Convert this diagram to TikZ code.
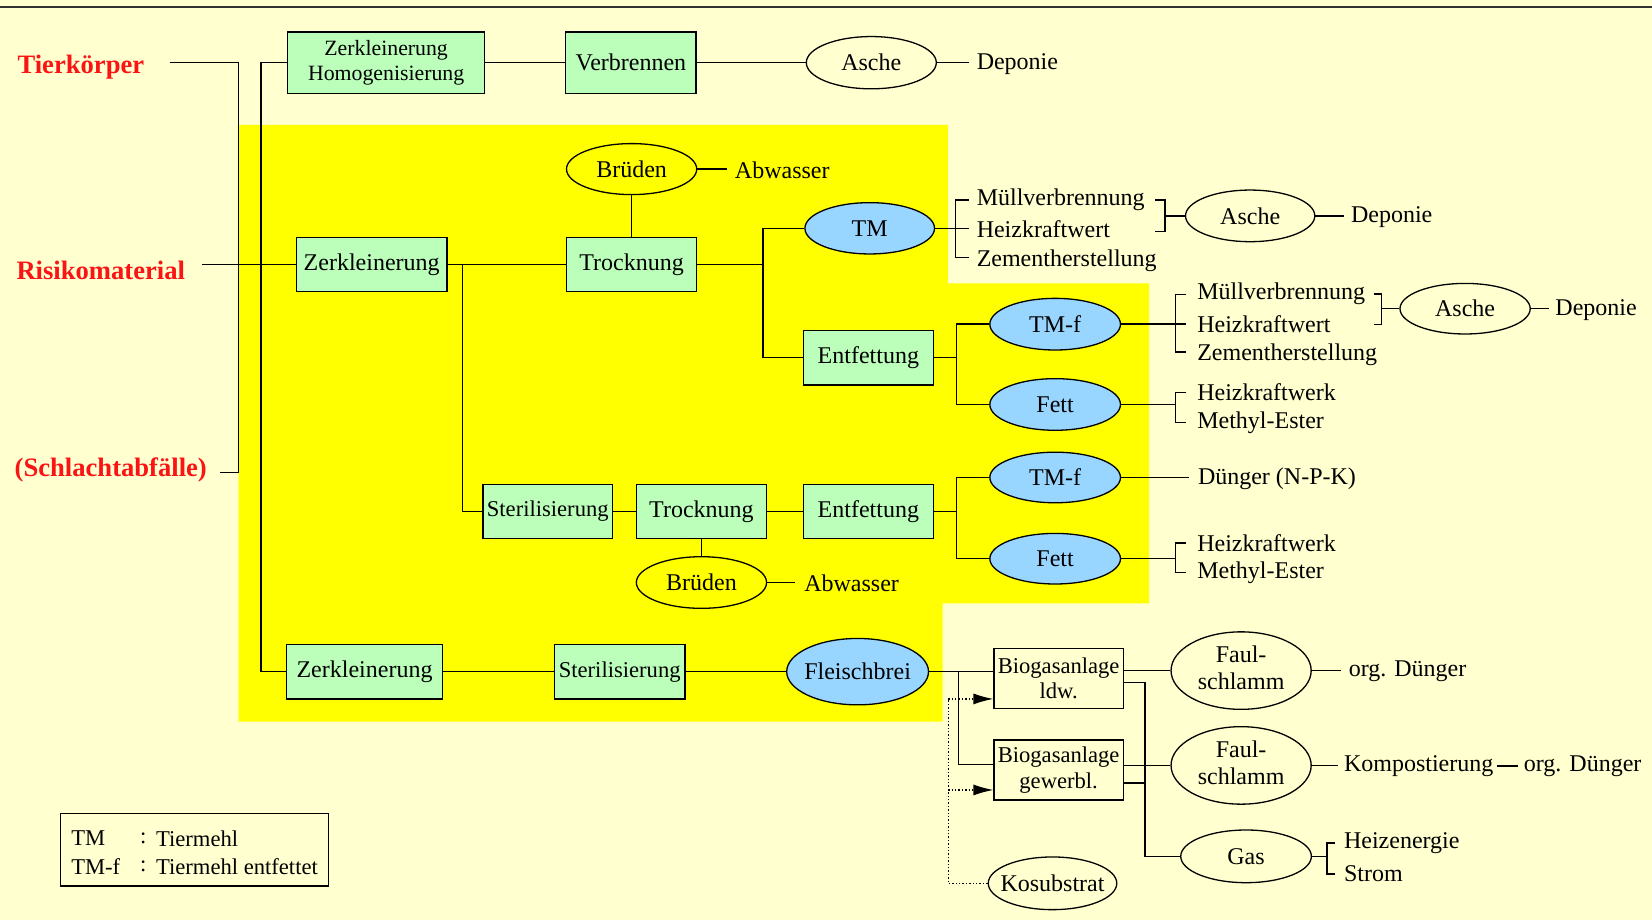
\documentclass[tikz,border=0pt]{standalone}
\usepackage{fontspec}
\setmainfont{Liberation Serif}
\usetikzlibrary{shapes.geometric,arrows.meta,calc}
\definecolor{bgc}{RGB}{255,255,208}
\definecolor{yel}{RGB}{255,255,0}
\definecolor{boxg}{RGB}{187,255,187}
\definecolor{ellb}{RGB}{153,214,255}
\definecolor{redc}{RGB}{250,20,20}
\tikzset{
 ln/.style={line width=0.7pt},
 sz/.style 2 args={minimum width=#1*0.5268pt, minimum height=#2*0.5268pt},
 f12/.style={font=\fontsize{12}{13.7}\selectfont},
 f11/.style={font=\fontsize{11.3}{12.8}\selectfont},
 box/.style={draw, line width=0.65pt, fill=boxg, inner sep=0pt, align=center, f12},
 wbox/.style={draw, line width=0.65pt, inner sep=0pt, align=center, f11},
 ell/.style={ellipse, draw, line width=0.65pt, inner sep=0pt, f12},
 bell/.style={ell, fill=ellb},
 txt/.style={anchor=west, inner sep=0pt, f12},
 redl/.style={anchor=west, inner sep=0pt, text=redc, font=\fontsize{13.3}{15}\selectfont\bfseries},
 dotl/.style={line width=0.7pt, densely dotted},
 arr/.style={-{Latex[length=10pt,width=5.5pt]}},
}
\begin{document}
\begin{tikzpicture}[x=0.5268pt,y=-0.5268pt]
\fill[bgc] (0,0) rectangle (1568,873);
\useasboundingbox (0,0) rectangle (1568,873);
\draw[line width=1pt, black!80] (0,6.6) -- (1568,6.6);
\fill[yel] (226.5,118.6) -- (899.7,118.6) -- (899.7,268.9) -- (1090.8,268.9) -- (1090.8,572.6) -- (894.8,572.6) -- (894.8,685) -- (226.5,685) -- cycle;

% left labels
\node[redl] (tk) at (16.3,63.3) {Tierkörper};
\node[redl] (rm) at (15.3,256.3) {Risikomaterial};
\node[redl] (sa) at (13.6,446) {(Schlachtabfälle)};

% top row
\node[box, sz={187}{58}, font=\fontsize{10.9}{12.5}\selectfont] (zh) at (366.5,59.5) {Zerkleinerung\\Homogenisierung};
\node[box, sz={123.5}{58}] (vb) at (598.8,59.5) {Verbrennen};
\node[ell, sz={123.4}{49.6}] (a1) at (827,59.5) {\makebox[0pt]{Asche}};
\node[txt] (dep1) at (926.7,61) {Deponie};

% risk material rows
\node[ell, sz={123.6}{48.4}] (br1) at (599.5,160.5) {\makebox[0pt]{Brüden}};
\node[txt] (abw1) at (697.2,161.5) {Abwasser};
\node[box, sz={143}{51}] (zk2) at (352.8,251) {Zerkleinerung};
\node[box, sz={123}{51}] (tr1) at (599.5,251) {Trocknung};
\node[bell, sz={123}{48.7}] (tm) at (825.5,216.7) {\makebox[0pt]{TM}};
\node[txt] (mv1) at (926.7,189.5) {Müllverbrennung};
\node[txt] (hk1) at (926.7,217.7) {Heizkraftwert};
\node[txt] (zs1) at (926.7,247.8) {Zementherstellung};
\node[ell, sz={122.7}{49}] (a2) at (1186.6,204.9) {\makebox[0pt]{Asche}};
\node[txt] (dep2) at (1282,206.5) {Deponie};

\node[box, sz={123.5}{51.5}] (ent1) at (824.2,339.6) {Entfettung};
\node[bell, sz={124}{49}] (tmf1) at (1001.5,307.7) {\makebox[0pt]{TM-f}};
\node[bell, sz={124}{49}] (fett1) at (1001.5,383.9) {\makebox[0pt]{Fett}};
\node[txt] (mv2) at (1136,278.8) {Müllverbrennung};
\node[txt] (hk2) at (1136,307.7) {Heizkraftwert};
\node[txt] (zs2) at (1136,337) {Zementherstellung};
\node[ell, sz={123.6}{48}] (a3) at (1390.6,293) {\makebox[0pt]{Asche}};
\node[txt] (dep3) at (1476,294.5) {Deponie};
\node[txt] (hkw1) at (1136,372.7) {Heizkraftwerk};
\node[txt] (me1) at (1136,401.2) {Methyl-Ester};

\node[box, sz={123.2}{51}, f11] (st1) at (519.9,485.4) {Sterilisierung};
\node[box, sz={123.6}{51}] (tr2) at (665.8,485.4) {Trocknung};
\node[ell, sz={123.6}{49}] (br2) at (665.8,552.9) {\makebox[0pt]{Brüden}};
\node[txt] (abw2) at (763,554) {Abwasser};
\node[box, sz={123.5}{51}] (ent2) at (824.2,485.4) {Entfettung};
\node[bell, sz={124}{48}] (tmf2) at (1001.5,453.2) {\makebox[0pt]{TM-f}};
\node[bell, sz={124}{48}] (fett2) at (1001.5,530.3) {\makebox[0pt]{Fett}};
\node[txt] (dng) at (1136.7,454.2) {Dünger (N-P-K)};
\node[txt] (hkw2) at (1136,515.5) {Heizkraftwerk};
\node[txt] (me2) at (1136,543.5) {Methyl-Ester};

% bottom row
\node[box, sz={148}{52}] (zk3) at (346,637.5) {Zerkleinerung};
\node[box, sz={123.7}{52}, f11] (st2) at (588.2,637.5) {Sterilisierung};
\node[bell, sz={134.6}{63}] (fb) at (814,637.5) {\makebox[0pt]{Fleischbrei}};
\node[wbox, sz={122.5}{57}] (bg1) at (1004.8,643.9) {Biogasanlage\\ldw.};
\node[wbox, sz={122.5}{57}] (bg2) at (1004.8,730.9) {Biogasanlage\\gewerbl.};
\node[ell, sz={122}{50}] (ks) at (999,838.4) {\makebox[0pt]{Kosubstrat}};
\node[ell, sz={133}{60}] (fs1) at (1178,636.5) {\makebox[0pt]{\begin{tabular}{@{}c@{}}Faul-\\schlamm\end{tabular}}};
\node[ell, sz={133}{60}] (fs2) at (1178,726.5) {\makebox[0pt]{\begin{tabular}{@{}c@{}}Faul-\\schlamm\end{tabular}}};
\node[ell, sz={124}{50}] (gas) at (1182.7,812.8) {\makebox[0pt]{Gas}};
\node[txt] (org1) at (1279.8,637.5) {org. Dünger};
\node[txt] (komp) at (1275.3,727.5) {Kompostierung};
\node[txt] (org2) at (1446,727.5) {org. Dünger};
\node[txt] (he) at (1275.3,800.3) {Heizenergie};
\node[txt] (str) at (1275.3,829.5) {Strom};

% legend
\draw[line width=0.65pt] (57.5,772) rectangle (311.8,841);
\node[txt, f11] (l1a) at (67.3,795.7) {TM};
\node[txt, f11] (l1b) at (132.5,795.7) {:};
\node[txt, f11] (l1c) at (147.8,795.7) {Tiermehl};
\node[txt, f11] (l2a) at (67.3,822.6) {TM-f};
\node[txt, f11] (l2b) at (132.5,822.6) {:};
\node[txt, f11] (l2c) at (147.8,822.6) {Tiermehl entfettet};

% connectors: left
\coordinate (tkE) at (161,59.2);
\coordinate (saE) at (209.2,448.6);
\coordinate (rmE) at (191.5,251);
\draw[ln] (tkE) -| (226.5,448.6) -- (saE);
\draw[ln] (rmE) -- (zk2.west);
\draw[ln] (zh.west) -- ++(-24.5,0) |- (zk3.west);

% top row
\draw[ln] (zh.east) -- (vb.west);
\draw[ln] (vb.east) -- (a1.west);
\draw[ln] (a1.east) -- ($(a1.east -| dep1.west)+(-7,0)$);

% risk row
\draw[ln] (br1.east) -- ($(br1.east -| abw1.west)+(-7,0)$);
\draw[ln] (br1.south) -- (tr1.north);
\draw[ln] (zk2.east) -- (tr1.west);
\coordinate (j1) at (439,251);
\draw[ln] (j1) |- (st1.west);
\coordinate (j2) at (724.3,251);
\draw[ln] (tr1.east) -- (j2);
\draw[ln] (tm.west) -| (j2) |- (ent1.west);
\draw[ln] (tm.east) -- ($(tm.east -| hk1.west)+(-7,0)$);
\draw[ln] ($(mv1.west)+(-7,0.3)$) -- ++(-13,0) |- ($(zs1.west)+(-7,-3.2)$);
\coordinate (b2) at (1105.8,204.9);
\draw[ln] (1096.5,189.8) -| (b2) |- (1096.5,219.9);
\draw[ln] (b2) -- (a2.west);
\draw[ln] (a2.east) -- ($(a2.east -| dep2.west)+(-6,0)$);

\coordinate (j3) at (907.7,339.6);
\draw[ln] (ent1.east) -- (j3);
\draw[ln] (tmf1.west) -| (j3) |- (fett1.west);
\draw[ln] (tmf1.east) -- ($(tmf1.east -| hk2.west)+(-10,0)$);
\draw[ln] ($(mv2.west)+(-10,1)$) -- ++(-10,0) |- ($(zs2.west)+(-10,-3)$);
\coordinate (b3) at (1311.4,293);
\draw[ln] (1304,279) -| (b3) |- (1304,307.8);
\draw[ln] (b3) -- (a3.west);
\draw[ln] (a3.east) -- ($(a3.east -| dep3.west)+(-6,0)$);
\coordinate (bf1) at (1116,383.9);
\draw[ln] (fett1.east) -- (bf1);
\draw[ln] ($(hkw1.west)+(-10,0)$) -| (bf1) |- ($(me1.west)+(-10,0)$);

% sterilisation row
\draw[ln] (st1.east) -- (tr2.west);
\draw[ln] (tr2.east) -- (ent2.west);
\draw[ln] (tr2.south) -- (br2.north);
\draw[ln] (br2.east) -- ($(br2.east -| abw2.west)+(-8,0)$);
\coordinate (j4) at (907.7,485.4);
\draw[ln] (ent2.east) -- (j4);
\draw[ln] (tmf2.west) -| (j4) |- (fett2.west);
\draw[ln] (tmf2.east) -- ($(tmf2.east -| dng.west)+(-8,0)$);
\coordinate (bf2) at (1116,530.3);
\draw[ln] (fett2.east) -- (bf2);
\draw[ln] ($(hkw2.west)+(-10,0)$) -| (bf2) |- ($(me2.west)+(-10,0)$);

% bottom row
\draw[ln] (zk3.east) -- (st2.west);
\draw[ln] (st2.east) -- (fb.west);
\draw[ln] (fb.east) -- (fb.east -| bg1.west);
\coordinate (jb) at (909.6,637.5);
\draw[ln] (jb) |- ($(bg2.west)+(0,-5)$);
\coordinate (d1) at (900,663.4);
\coordinate (d2) at (900,749.8);
\draw[dotl, arr] (d1) -- (d1 -| bg1.west);
\draw[dotl, arr] (d2) -- (d2 -| bg2.west);
\draw[dotl] (ks.west) -| (d1);
\draw[ln] (fs1.west -| bg1.east) -- (fs1.west);
\coordinate (gv) at (1086.8,647.6);
\draw[ln] (gv -| bg1.east) -- (gv) |- (gas.west);
\draw[ln] (fs2.west -| bg2.east) -- (fs2.west);
\coordinate (gv2) at (1086.8,743);
\draw[ln] (gv2 -| bg2.east) -- (gv2);
\draw[ln] (fs1.east) -- ($(fs1.east -| org1.west)+(-7,0)$);
\draw[ln] (fs2.east) -- ($(fs2.east -| komp.west)+(-5,0)$);
\draw[line width=1pt] ($(komp.east)+(3,0)$) -- ($(org2.west)+(-5,0)$);
\coordinate (gb) at (1259.4,812.8);
\draw[ln] (gas.east) -- (gb);
\draw[ln] ($(he.west)+(-8,0)$) -| (gb) |- ($(str.west)+(-8,0)$);
\end{tikzpicture}
\end{document}
